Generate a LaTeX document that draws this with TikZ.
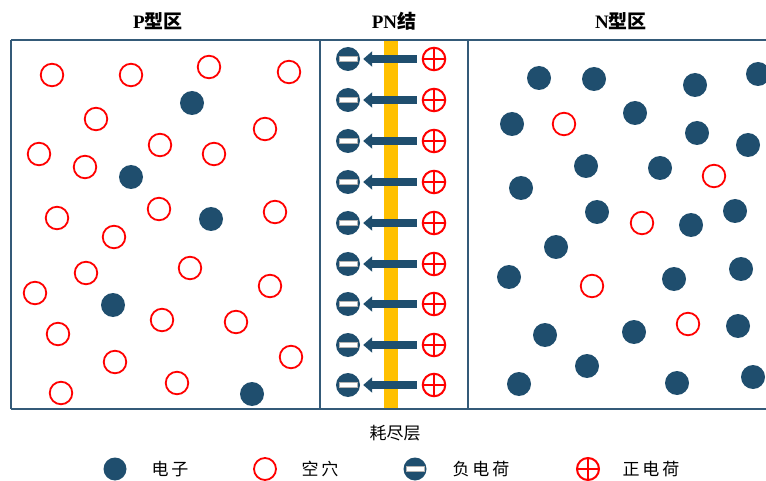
\documentclass[tikz,border=0pt]{standalone}
\usepackage{fontspec}
\setmainfont{Liberation Serif}
\newfontfamily\cjk{Noto Sans CJK SC}
\usetikzlibrary{arrows.meta}
\definecolor{ecol}{RGB}{31,78,110}
\definecolor{bcol}{RGB}{52,90,120}
\definecolor{ycol}{RGB}{255,192,0}
\tikzset{
  elec/.style={circle, fill=ecol, minimum size=24pt, inner sep=0pt},
  hole/.style={circle, draw=red, line width=1.8pt, minimum size=22.5pt, inner sep=0pt},
  negion/.style={circle, fill=ecol, minimum size=24pt, inner sep=0pt,
    path picture={\fill[white, draw=gray!60, line width=0.4pt] ([xshift=-9pt,yshift=-2.4pt]path picture bounding box.center) rectangle ([xshift=9pt,yshift=2.4pt]path picture bounding box.center);}},
  posion/.style={circle, draw=red, line width=2pt, minimum size=22.5pt, inner sep=0pt,
    path picture={\draw[red, line width=2pt] (path picture bounding box.north) -- (path picture bounding box.south) (path picture bounding box.west) -- (path picture bounding box.east);}},
  driftarrow/.style={draw=ecol, line width=7.5pt, -{Triangle[width=15pt,length=9pt]}, shorten <=5pt, shorten >=3pt},
  title/.style={font=\fontsize{19}{22}\selectfont\bfseries},
  legtext/.style={font=\fontsize{17}{20}\selectfont\cjk, anchor=center},
}
\begin{document}
\begin{tikzpicture}[x=1pt,y=-1pt]
\useasboundingbox (0,0) rectangle (766,481);
\fill[white] (0,0) rectangle (766,481);
% titles
\node[title] (tp) at (158,21) {P{\cjk\bfseries 型区}};
\node[title] (tpn) at (394,21) {PN{\cjk\bfseries 结}};
\node[title] (tn) at (621,21) {N{\cjk\bfseries 型区}};
% depletion bar
\fill[ycol] (384,40) rectangle (398,409);
% box
\draw[bcol, line width=2pt] (11,40) -- (770,40) (11,409) -- (770,409) (11,40) -- (11,409) (320,40) -- (320,409) (468,40) -- (468,409);
% P region holes
\foreach \x/\y [count=\i] in {52/75,131/75,209/67,289/72,96/119,265/129,39/154,85/167,160/145,214/154,57/218,114/237,159/209,275/212,86/273,190/268,35/293,270/286,58/334,162/320,236/322,115/362,291/357,61/393,177/383}
  \node[hole] (ph\i) at (\x,\y) {};
% P region electrons
\foreach \x/\y [count=\i] in {192/103,131/177,211/219,113/305,252/394}
  \node[elec] (pe\i) at (\x,\y) {};
% N region electrons
\foreach \x/\y [count=\i] in {539/78,594/79,695/85,758/74,512/124,635/113,697/133,748/145,586/166,660/168,521/188,597/212,691/225,735/211,556/247,509/277,674/279,741/269,545/335,634/332,738/326,587/366,519/384,677/383,753/377}
  \node[elec] (ne\i) at (\x,\y) {};
% N region holes
\foreach \x/\y [count=\i] in {564/124,714/176,642/223,592/286,688/324}
  \node[hole] (nh\i) at (\x,\y) {};
% junction ions
\foreach \y [count=\i] in {59,100,141,182,223,264,304,345,385}{
  \node[negion] (n\i) at (348,\y) {};
  \node[posion] (p\i) at (434,\y) {};
  \draw[driftarrow] (p\i.west) -- (n\i.east);
}
% labels
\node[legtext] (dep) at (395,433) {耗尽层};
\node[elec, minimum size=23pt] (le) at (115,469) {};
\node[legtext] (lt1) at (170,469) {电\,子};
\node[hole, minimum size=22pt] (lh) at (265,469) {};
\node[legtext] (lt2) at (320,469) {空\,穴};
\node[negion, minimum size=23pt] (ln) at (415,469) {};
\node[legtext] (lt3) at (481,469) {负\,电\,荷};
\node[posion, minimum size=22pt] (lp) at (588,469) {};
\node[legtext] (lt4) at (651,469) {正\,电\,荷};
\end{tikzpicture}
\end{document}
